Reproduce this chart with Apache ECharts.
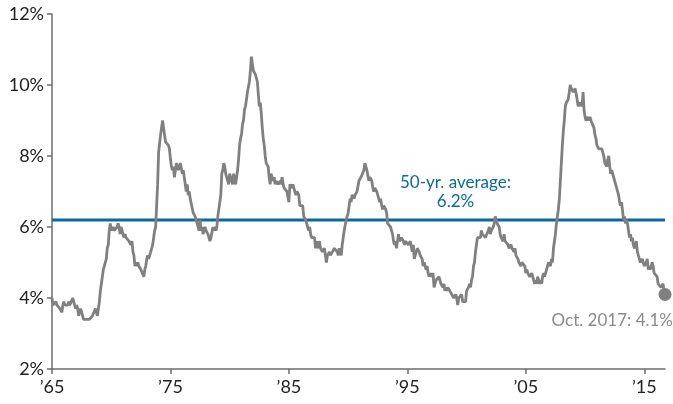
<!DOCTYPE html>
<html>
<head>
<meta charset="utf-8">
<script src="https://cdn.jsdelivr.net/npm/echarts@6/dist/echarts.min.js"></script>
<style>
  html, body { margin: 0; padding: 0; background: #fff; }
  #chart { width: 673px; height: 404px; }
</style>
</head>
<body>
<div id="chart"></div>
<script>
// Monthly civilian unemployment rate (%), Jan 1966 – Oct 2017, grouped by decade
const START_YEAR = 1966;
const rates1966_1975 = [
  4.0,3.8,3.8,3.8,3.9,3.8,3.8,3.8,3.7,3.7,3.6,3.8,
  3.9,3.8,3.8,3.8,3.8,3.9,3.8,3.8,3.8,4.0,3.9,3.8,
  3.7,3.8,3.7,3.5,3.5,3.7,3.7,3.5,3.4,3.4,3.4,3.4,
  3.4,3.4,3.4,3.4,3.4,3.5,3.5,3.5,3.7,3.7,3.5,3.5,
  3.9,4.2,4.4,4.6,4.8,4.9,5.0,5.1,5.4,5.5,5.9,6.1,
  5.9,5.9,6.0,5.9,5.9,5.9,6.0,6.1,6.0,5.8,6.0,6.0,
  5.8,5.7,5.8,5.7,5.7,5.7,5.6,5.6,5.5,5.6,5.3,5.2,
  4.9,5.0,4.9,5.0,4.9,4.9,4.8,4.8,4.8,4.6,4.8,4.9,
  5.1,5.2,5.1,5.1,5.1,5.4,5.5,5.5,5.9,6.0,6.6,7.2,
  8.1,8.1,8.6,8.8,9.0,8.8,8.6,8.4,8.4,8.4,8.3,8.2
];
const rates1976_1985 = [
  7.9,7.7,7.6,7.7,7.4,7.6,7.8,7.8,7.6,7.7,7.8,7.8,
  7.5,7.6,7.4,7.2,7.0,7.2,6.9,7.0,6.8,6.8,6.8,6.4,
  6.4,6.3,6.3,6.1,6.0,5.9,6.2,5.9,6.0,5.8,5.9,6.0,
  5.9,5.9,5.8,5.8,5.6,5.7,5.7,6.0,5.9,6.0,5.9,6.0,
  6.3,6.3,6.3,6.9,7.5,7.6,7.8,7.7,7.5,7.5,7.5,7.2,
  7.5,7.4,7.4,7.2,7.5,7.5,7.2,7.4,7.6,7.9,8.3,8.5,
  8.6,8.9,9.0,9.3,9.4,9.6,9.8,9.8,10.1,10.4,10.8,10.8,
  10.4,10.4,10.3,10.2,10.1,10.1,9.4,9.5,9.2,8.8,8.5,8.3,
  8.0,7.8,7.8,7.7,7.4,7.2,7.5,7.5,7.3,7.4,7.2,7.3,
  7.3,7.2,7.2,7.3,7.2,7.4,7.4,7.1,7.1,7.1,7.0,7.0
];
const rates1986_1995 = [
  6.7,7.2,7.2,7.1,7.2,7.2,7.0,6.9,7.0,7.0,6.9,6.6,
  6.6,6.6,6.6,6.3,6.3,6.2,6.1,6.0,5.9,6.0,5.8,5.7,
  5.7,5.7,5.7,5.4,5.6,5.4,5.4,5.6,5.4,5.4,5.3,5.3,
  5.4,5.2,5.0,5.2,5.2,5.3,5.2,5.2,5.3,5.3,5.4,5.4,
  5.4,5.3,5.2,5.4,5.4,5.2,5.5,5.7,5.9,5.9,6.2,6.3,
  6.4,6.6,6.8,6.7,6.9,6.9,6.8,6.9,6.9,7.0,7.0,7.3,
  7.3,7.4,7.4,7.4,7.6,7.8,7.7,7.6,7.6,7.3,7.4,7.4,
  7.3,7.1,7.0,7.1,7.1,7.0,6.9,6.8,6.7,6.8,6.6,6.5,
  6.6,6.6,6.5,6.4,6.1,6.1,6.1,6.0,5.9,5.8,5.6,5.5,
  5.6,5.4,5.4,5.8,5.6,5.6,5.7,5.7,5.6,5.5,5.6,5.6
];
const rates1996_2005 = [
  5.6,5.5,5.5,5.6,5.6,5.3,5.5,5.1,5.2,5.2,5.4,5.4,
  5.3,5.2,5.2,5.1,4.9,5.0,4.9,4.8,4.9,4.7,4.6,4.7,
  4.6,4.6,4.7,4.3,4.4,4.5,4.5,4.5,4.6,4.5,4.4,4.4,
  4.3,4.4,4.2,4.3,4.2,4.3,4.3,4.2,4.2,4.1,4.1,4.0,
  4.0,4.1,4.0,3.8,4.0,4.0,4.0,4.1,3.9,3.9,3.9,3.9,
  4.2,4.2,4.3,4.4,4.3,4.5,4.6,4.9,5.0,5.3,5.5,5.7,
  5.7,5.7,5.7,5.9,5.8,5.8,5.8,5.7,5.7,5.7,5.9,6.0,
  5.8,5.9,5.9,6.0,6.1,6.3,6.2,6.1,6.1,6.0,5.8,5.7,
  5.7,5.6,5.8,5.6,5.6,5.6,5.5,5.4,5.4,5.5,5.4,5.4,
  5.3,5.4,5.2,5.2,5.1,5.0,5.0,4.9,5.0,5.0,5.0,4.9
];
const rates2006_2017 = [
  4.7,4.8,4.7,4.7,4.6,4.6,4.7,4.7,4.5,4.4,4.5,4.4,
  4.6,4.5,4.4,4.5,4.4,4.6,4.7,4.6,4.7,4.7,4.7,5.0,
  5.0,4.9,5.1,5.0,5.4,5.6,5.8,6.1,6.1,6.5,6.8,7.3,
  7.8,8.3,8.7,9.0,9.4,9.5,9.5,9.6,9.8,10.0,9.9,9.9,
  9.8,9.8,9.9,9.9,9.6,9.4,9.4,9.5,9.5,9.4,9.8,9.3,
  9.1,9.0,9.0,9.1,9.0,9.1,9.0,9.0,9.0,8.8,8.6,8.5,
  8.3,8.3,8.2,8.2,8.2,8.2,8.2,8.0,7.8,7.8,7.7,7.9,
  8.0,7.7,7.5,7.6,7.5,7.5,7.3,7.2,7.2,7.2,6.9,6.7,
  6.6,6.7,6.7,6.2,6.3,6.1,6.2,6.1,5.9,5.7,5.8,5.6,
  5.7,5.5,5.4,5.4,5.6,5.3,5.2,5.1,5.0,5.0,5.1,5.0,
  4.9,4.9,5.0,5.1,4.8,4.9,4.8,4.9,5.0,4.9,4.7,4.7,
  4.7,4.6,4.4,4.4,4.4,4.3,4.3,4.4,4.2,4.1
];

const AVERAGE = 6.2;                       // 50-year average
const LAST_LABEL = 'Oct. 2017';
const X_TICK_LABELS = ['’65', '’75', '’85', '’95', '’05', '’15'];
const X_TICK_STEP = 120;                   // months between x-axis labels
const Y_MIN = 2, Y_MAX = 12, Y_STEP = 2;

const rates = [].concat(rates1966_1975, rates1976_1985, rates1986_1995, rates1996_2005, rates2006_2017);
const months = rates.map((_, i) => {
  const y = START_YEAR + Math.floor(i / 12);
  const m = (i % 12) + 1;
  return y + '-' + (m < 10 ? '0' + m : m);
});
const lastIdx = rates.length - 1;
const lastVal = rates[lastIdx];

const FONT = 'Lato, "Open Sans", sans-serif';
const GRAY = '#808080';
const BLUE = '#0a6a9c';

const chart = echarts.init(document.getElementById('chart'), null, { renderer: 'canvas' });
chart.setOption({
  animation: false,
  backgroundColor: '#ffffff',
  grid: { left: 52, right: 8, top: 14, bottom: 35, containLabel: false },
  xAxis: {
    type: 'category',
    data: months,
    boundaryGap: false,
    axisLine: { lineStyle: { color: '#6e6e6e', width: 1.5 } },
    axisTick: {
      interval: (i) => i % X_TICK_STEP === 0,
      length: 5,
      lineStyle: { color: '#6e6e6e', width: 1.5 }
    },
    axisLabel: {
      interval: (i) => i % X_TICK_STEP === 0,
      formatter: (v, i) => X_TICK_LABELS[Math.round(i / X_TICK_STEP)] || '',
      color: '#222',
      fontFamily: FONT,
      fontSize: 18,
      margin: 9
    },
    splitLine: { show: false }
  },
  yAxis: {
    type: 'value',
    min: Y_MIN,
    max: Y_MAX,
    interval: Y_STEP,
    axisLine: { show: true, lineStyle: { color: '#6e6e6e', width: 1.5 } },
    axisTick: { show: true, length: 5, lineStyle: { color: '#6e6e6e', width: 1.5 } },
    axisLabel: {
      formatter: '{value}%',
      color: '#222',
      fontFamily: FONT,
      fontSize: 18,
      margin: 8
    },
    splitLine: { show: false }
  },
  series: [
    {
      type: 'line',
      data: rates,
      showSymbol: false,
      lineStyle: { color: GRAY, width: 2.8 },
      itemStyle: { color: GRAY },
      z: 3,
      markPoint: {
        symbol: 'circle',
        symbolSize: 13,
        itemStyle: { color: GRAY },
        label: {
          show: true,
          position: 'bottom',
          align: 'right',
          offset: [8, 6],
          formatter: LAST_LABEL + ': ' + lastVal + '%',
          color: '#8a8a8a',
          fontFamily: FONT,
          fontSize: 17
        },
        data: [{ coord: [lastIdx, lastVal] }]
      }
    },
    {
      type: 'line',
      data: rates.map(() => AVERAGE),
      showSymbol: false,
      lineStyle: { color: BLUE, width: 3 },
      z: 2,
      silent: true
    }
  ],
  graphic: [
    {
      type: 'text',
      left: 400,
      top: 173,
      style: {
        text: '50-yr. average:\n' + AVERAGE + '%',
        fill: BLUE,
        font: '17px ' + FONT,
        textAlign: 'center',
        lineHeight: 19,
        width: 108
      }
    }
  ]
});
</script>
</body>
</html>
